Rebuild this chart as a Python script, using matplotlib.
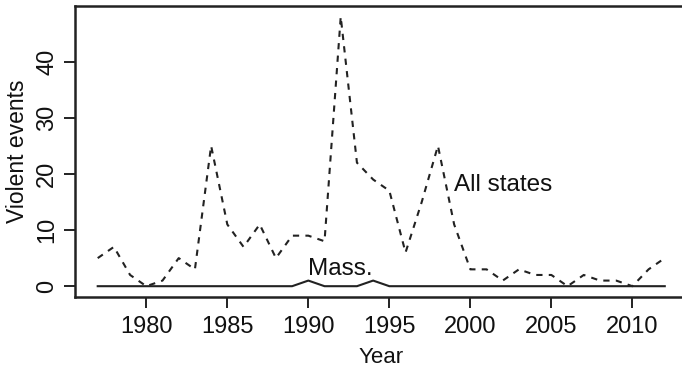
import numpy as np
import matplotlib.pyplot as plt

plt.rcParams['font.family'] = ['Liberation Sans', 'DejaVu Sans']

years = list(range(1977, 2013))
all_states = [5, 7, 2, 0, 1, 5, 3, 25, 11, 7, 11, 5, 9, 9, 8, 48, 22, 19,
              17, 6, 15, 25, 11, 3, 3, 1, 3, 2, 2, 0, 2, 1, 1, 0, 3, 5]
mass = [0] * len(years)
mass[years.index(1990)] = 1
mass[years.index(1994)] = 1

xticks = list(range(1980, 2011, 5))
yticks = list(range(0, 41, 10))

fig = plt.figure(figsize = (6.82, 3.68), dpi = 100)
ax = fig.add_axes([0.110, 0.193, 0.898, 0.791])

ax.plot(years, all_states, color = '#222222', lw = 1.5, dashes = (3, 3))
ax.plot(years, mass, color = '#222222', lw = 1.5)

ax.text(2002, 18, 'All states', size = 17.5, ha = 'center', va = 'center', color = '#111111')
ax.text(1992, 3, 'Mass.', size = 17.5, ha = 'center', va = 'center', color = '#111111')

ax.set_xlim(1975.6, 2013.4)
ax.set_ylim(-1.92, 49.92)
ax.set_xticks(xticks)
ax.set_yticks(yticks)
ax.tick_params(axis = 'both', direction = 'out', length = 8, width = 1.3,
               labelsize = 17, colors = '#111111')
ax.tick_params(axis = 'x', pad = 5.5)
ax.tick_params(axis = 'y', pad = 4)
for lab in ax.get_yticklabels():
    lab.set_rotation(90)
    lab.set_va('center')
for sp in ax.spines.values():
    sp.set_linewidth(1.8)
    sp.set_color('#222222')

ax.set_xlabel('Year', size = 16, labelpad = 6.5, color = '#111111')
ax.set_ylabel('Violent events', size = 16.5, labelpad = 5, color = '#111111')

plt.savefig('out.png', dpi = 100)
